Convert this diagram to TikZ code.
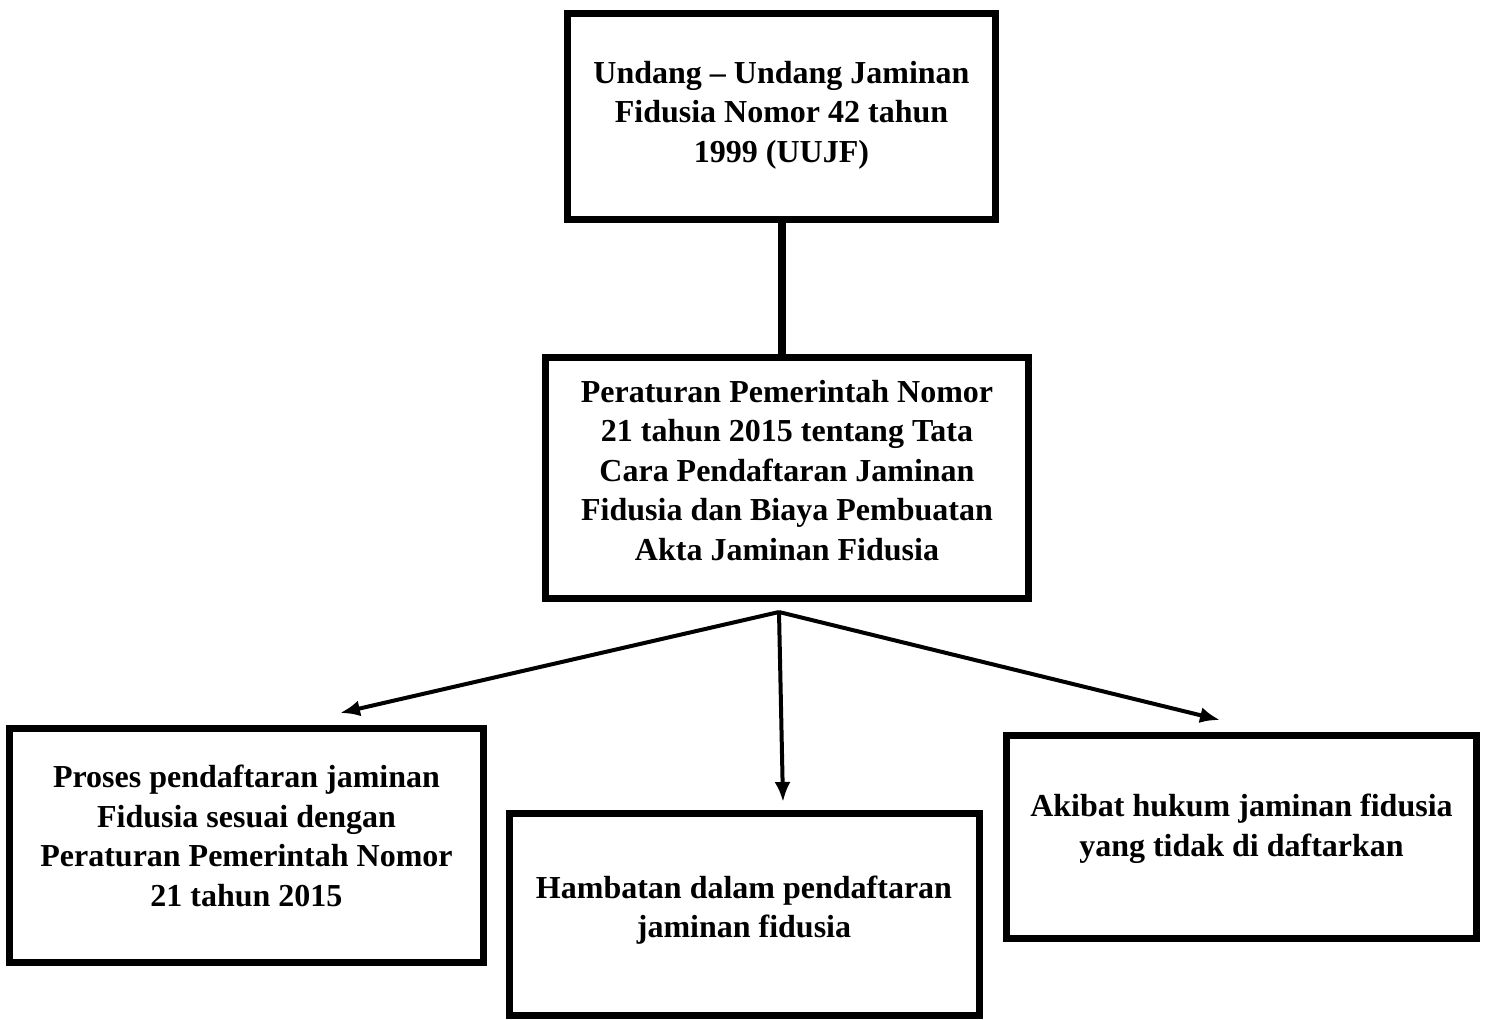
\documentclass[tikz,border=0pt]{standalone}
\usepackage{fontspec}
\setmainfont{Liberation Serif}
\usetikzlibrary{arrows.meta}
\newcommand\ruangbawah[1]{\rule[-#1]{0pt}{0pt}}
\begin{document}
\begin{tikzpicture}[x=0.5pt,y=-0.5pt,
  kotak/.style={draw,line width=3.5pt,align=center,inner sep=0pt,font=\bfseries\fontsize{16}{19.75}\selectfont},
  panah/.style={line width=2pt,-{Latex[length=10pt,width=8pt]}}]
\useasboundingbox (0,0) rectangle (1486,1019);
\node[kotak,minimum width=214pt,minimum height=103pt] (uujf) at (781.5,116.5) {Undang -- Undang Jaminan\\Fidusia Nomor 42 tahun\\1999 (UUJF)\ruangbawah{5pt}};
\node[kotak,minimum width=241.5pt,minimum height=120.5pt] (pp) at (787,478) {Peraturan Pemerintah Nomor\\21 tahun 2015 tentang Tata\\Cara Pendaftaran Jaminan\\Fidusia dan Biaya Pembuatan\\Akta Jaminan Fidusia\ruangbawah{8pt}};
\node[kotak,minimum width=237pt,minimum height=117pt] (proses) at (246.5,845.5) {Proses pendaftaran jaminan\\Fidusia sesuai dengan\\Peraturan Pemerintah Nomor\\21 tahun 2015\ruangbawah{10pt}};
\node[kotak,minimum width=235pt,minimum height=101pt] (hambatan) at (744,914) {Hambatan dalam pendaftaran\\jaminan fidusia\ruangbawah{7.5pt}};
\node[kotak,minimum width=235pt,minimum height=101.5pt] (akibat) at (1241.5,837) {Akibat hukum jaminan fidusia\\yang tidak di daftarkan\ruangbawah{12pt}};
% sambungan
\draw[line width=3.6pt] (uujf.south -| 782,0) -- (pp.north -| 782,0);
\coordinate (cabang) at (779,612);
\coordinate (ujungA) at (340,713);
\coordinate (ujungB) at (783,802);
\coordinate (ujungC) at (1220,720);
\draw[panah] (cabang) -- (ujungA);
\draw[panah] (cabang) -- (ujungB);
\draw[panah] (cabang) -- (ujungC);
\end{tikzpicture}
\end{document}
